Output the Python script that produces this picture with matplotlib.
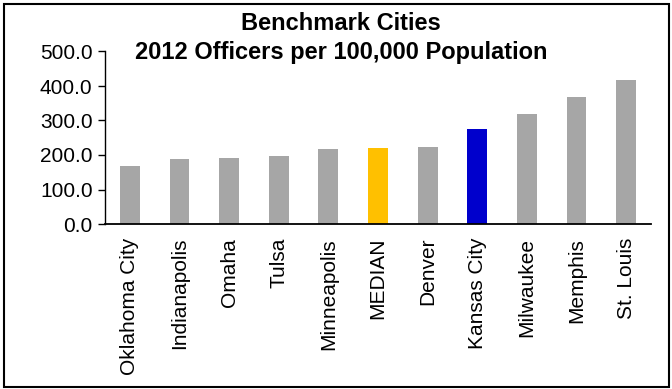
import matplotlib
matplotlib.use("Agg")
import matplotlib.pyplot as plt
from matplotlib.patches import Rectangle

cities = ["Oklahoma City", "Indianapolis", "Omaha", "Tulsa", "Minneapolis", "MEDIAN",
          "Denver", "Kansas City", "Milwaukee", "Memphis", "St. Louis"]
officers = [169.0, 189.0, 190.5, 197.0, 218.0, 220.0, 222.0, 275.0, 319.0, 369.0, 417.0]
highlight = {"MEDIAN": "#FFC000", "Kansas City": "#0000CC"}

plt.rcParams["font.family"] = ["Liberation Sans", "DejaVu Sans"]

fig = plt.figure(figsize=(6.72, 3.89), dpi=100)
ax = fig.add_axes([105 / 672, 1 - 224 / 389, 546 / 672, 172.5 / 389])

colors = [highlight.get(c, "#A6A6A6") for c in cities]
ax.bar(range(len(cities)), officers, width=0.4, color=colors)

ax.set_xlim(-0.5, len(cities) - 0.5)
ax.set_ylim(0, 500)
ax.set_yticks(range(0, 501, 100))
ax.set_yticklabels([f"{v:.1f}" for v in range(0, 501, 100)], fontsize=15)
ax.set_xticks(range(len(cities)))
ax.set_xticklabels(cities, rotation=90, fontsize=15)
ax.tick_params(axis="x", length=0, pad=10)
ax.tick_params(axis="y", direction="out", length=5, width=1, pad=4)
ax.spines["top"].set_visible(False)
ax.spines["right"].set_visible(False)
ax.spines["left"].set_linewidth(1)
ax.spines["bottom"].set_linewidth(1.3)

fig.text(341 / 672, 1 - 23 / 389, "Benchmark Cities", ha="center", va="center",
         fontsize=17, fontweight="bold")
fig.text(341 / 672, 1 - 52.5 / 389, "2012 Officers per 100,000 Population", ha="center",
         va="center", fontsize=17, fontweight="bold")

fig.patches.append(Rectangle((4 / 672, 2 / 389), 665 / 672, 383 / 389, transform=fig.transFigure,
                             fill=False, edgecolor="black", linewidth=1.5))

fig.savefig("out.png", dpi=100)
